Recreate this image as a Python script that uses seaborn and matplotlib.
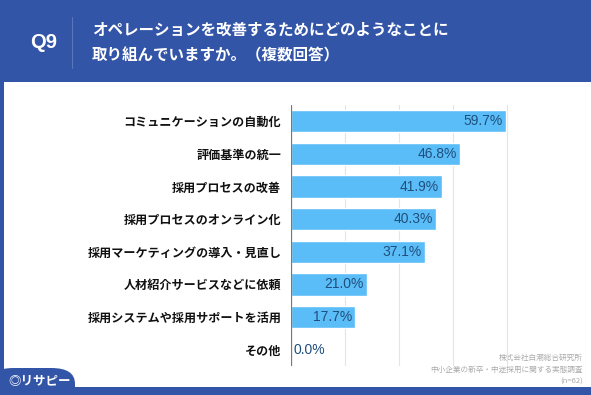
"""
Q9 bar chart: operations improvement efforts (multiple answers)
"""

import pandas as pd
import matplotlib.pyplot as plt
import matplotlib.patches as mpatches
import seaborn as sns

# Data
categories = [
    'コミュニケーションの自動化',
    '評価基準の統一',
    '採用プロセスの改善',
    '採用プロセスのオンライン化',
    '採用マーケティングの導入・見直し',
    '人材紹介サービスなどに依頼',
    '採用システムや採用サポートを活用',
    'その他',
]
values = [59.7, 46.8, 41.9, 40.3, 37.1, 21.0, 17.7, 0.0]
grid_ticks = [15, 30, 45, 60]

question = 'Q9'
title_lines = ['オペレーションを改善するためにどのようなことに', '取り組んでいますか。（複数回答）']
source_lines = ['株式会社白潮総合研究所', '中小企業の新卒・中途採用に関する実態調査', '(n=62)']

sns.set_style("white")
plt.rcParams['font.family'] = ['Noto Sans CJK JP', 'DejaVu Sans']

BLUE = '#3355a8'
BAR = '#5bbdf8'
LABEL = '#1f4f7c'

df = pd.DataFrame({'category': categories, 'value': values})

fig = plt.figure(figsize=(5.91, 3.95), dpi=100, facecolor=BLUE)

# white panel
fig.patches.append(mpatches.Rectangle((4 / 591, 8 / 395), 1, (387 - 83) / 395 + 0.003,
                                      transform=fig.transFigure, facecolor='white',
                                      edgecolor='none', zorder=0))
# logo tab bottom-left
fig.patches.append(mpatches.FancyBboxPatch((-10 / 591, -10 / 395), 85 / 591, 37 / 395,
                                           boxstyle='round,pad=0,rounding_size=0.04',
                                           transform=fig.transFigure, facecolor=BLUE,
                                           edgecolor='none', zorder=1))

# header
fig.text(44 / 591, 1 - 42 / 395, question, color='white', fontsize=14.5, fontweight='bold',
         ha='center', va='center', family=['Liberation Sans', 'DejaVu Sans'])
fig.add_artist(plt.Line2D([72 / 591, 72 / 591], [1 - 17 / 395, 1 - 68 / 395],
                          transform=fig.transFigure, color='#5a76b8', linewidth=0.8))
fig.text(92 / 591, 1 - 30 / 395, title_lines[0], color='white', fontsize=11.2,
         fontweight='bold', ha='left', va='center')
fig.text(92 / 591, 1 - 55 / 395, title_lines[1], color='white', fontsize=11.2,
         fontweight='bold', ha='left', va='center')

# chart
ax = fig.add_axes([291 / 591, 1 - 366 / 395, 300 / 591, 261 / 395])
ax.set_zorder(5)
ax.set_facecolor('none')
sns.barplot(data=df, x='value', y='category', orient='h', color=BAR, width=0.68,
            saturation=1, ax=ax, zorder=2)
ax.set_xlim(0, 83.3)
ax.set_ylim(7.5, -0.5)
for t in grid_ticks:
    ax.axvline(t, color='#e4e4e4', linewidth=0.8, zorder=1)
ax.axvline(0, color='#777777', linewidth=0.9, zorder=3)
for s in ax.spines.values():
    s.set_visible(False)
ax.set_xticks([])
ax.set_xlabel('')
ax.set_ylabel('')
ax.tick_params(axis='y', length=0, pad=7)
for lab in ax.get_yticklabels():
    lab.set_fontsize(8.7)
    lab.set_fontweight('bold')
    lab.set_color('#111111')

for i, v in enumerate(values):
    if v > 5:
        ax.text(v - 0.8, i, f'{v:.1f}%', ha='right', va='center', color=LABEL,
                fontsize=10, zorder=4, family=['Liberation Sans', 'DejaVu Sans'])
    else:
        ax.text(v + 0.8, i, f'{v:.1f}%', ha='left', va='center', color=LABEL,
                fontsize=10, zorder=4, family=['Liberation Sans', 'DejaVu Sans'])

# source
for k, line in enumerate(source_lines):
    fig.text(583 / 591, 1 - (358 + k * 12) / 395, line, color='#aaaaaa', fontsize=5.5,
             ha='right', va='center')

# logo
fig.text(8 / 591, 1 - 382 / 395, '◎リサピー', color='white', fontsize=9, fontweight='bold',
         ha='left', va='center', zorder=3)

fig.savefig('out.png', dpi=100, facecolor=BLUE)
